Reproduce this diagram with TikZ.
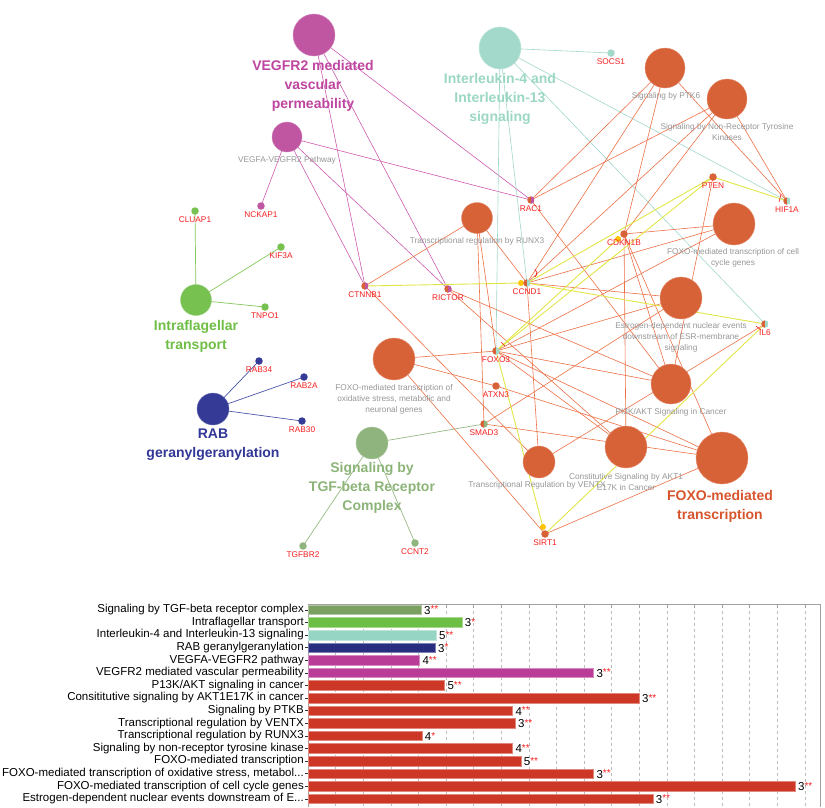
\documentclass[tikz,border=0pt]{standalone}
\usepackage{fontspec}
\setmainfont{Liberation Sans}
\usetikzlibrary{backgrounds}
\definecolor{orgC}{RGB}{216,98,56}
\definecolor{magC}{RGB}{192,86,162}
\definecolor{tealC}{RGB}{163,217,203}
\definecolor{iftC}{RGB}{118,193,80}
\definecolor{rabC}{RGB}{52,58,150}
\definecolor{tgfC}{RGB}{143,180,125}
\definecolor{yelC}{RGB}{255,196,0}
\definecolor{geneRed}{RGB}{245,30,30}
\definecolor{oEdge}{RGB}{236,112,70}
\definecolor{mEdge}{RGB}{205,90,175}
\definecolor{tEdge}{RGB}{160,215,205}
\definecolor{yEdge}{RGB}{225,230,70}
\definecolor{gEdge}{RGB}{130,200,90}
\definecolor{bEdge}{RGB}{75,85,170}
\definecolor{tgEdge}{RGB}{150,185,130}
\definecolor{grayLab}{RGB}{150,150,150}
\definecolor{vegTxt}{RGB}{190,70,160}
\definecolor{ilTxt}{RGB}{155,215,195}
\definecolor{iftTxt}{RGB}{110,190,70}
\definecolor{rabTxt}{RGB}{50,55,150}
\definecolor{tgfTxt}{RGB}{140,180,120}
\definecolor{foxTxt}{RGB}{215,85,45}
\definecolor{cTGF}{RGB}{122,160,98}
\definecolor{cIFT}{RGB}{108,190,68}
\definecolor{cIL}{RGB}{150,212,195}
\definecolor{cRAB}{RGB}{40,45,128}
\definecolor{cMAG}{RGB}{185,60,150}
\definecolor{cRED}{RGB}{205,56,38}
\definecolor{axisGray}{RGB}{160,160,160}
\tikzset{
  cat/.style={circle, fill=#1, draw=#1!70!white, line width=0.4pt, inner sep=0pt},
  gene/.style={circle, fill=#1, inner sep=0pt, minimum size=7.5pt},
  split/.style 2 args={circle, inner sep=0pt, minimum size=7.5pt,
    path picture={\fill[#1] (path picture bounding box.south west) rectangle (path picture bounding box.north);
                  \fill[#2] (path picture bounding box.south) rectangle (path picture bounding box.north east);}},
  ydot/.style={circle, fill=yelC, inner sep=0pt, minimum size=6pt},
  glab/.style={font=\fontsize{8.3}{9}\selectfont, text=geneRed, inner sep=0pt},
  graylab/.style={font=\fontsize{8.3}{11}\selectfont, text=grayLab, align=center, inner sep=0pt},
  biglab/.style={font=\fontsize{14}{19}\selectfont\bfseries, text=#1, align=center, inner sep=0pt},
  oe/.style={draw=oEdge, line width=0.6pt},
  me/.style={draw=mEdge, line width=0.6pt},
  te/.style={draw=tEdge, line width=0.6pt},
  ye/.style={draw=yEdge, line width=0.9pt},
  ge/.style={draw=gEdge, line width=0.7pt},
  be/.style={draw=bEdge, line width=0.7pt},
  tge/.style={draw=tgEdge, line width=0.7pt},
  barlab/.style={font=\fontsize{11.5}{13}\selectfont, anchor=east, inner sep=0pt},
  vallab/.style={font=\fontsize{11.5}{13}\selectfont, anchor=west, inner sep=0pt},
  every label/.style={glab},
  label distance=1.5pt
}
\begin{document}
\begin{tikzpicture}[x=1pt,y=-1pt]
\useasboundingbox (0,0) rectangle (825,807);

% ---------- category nodes ----------
\node[cat=magC, minimum size=42pt] (vegfr2) at (314,35) {};
\node[cat=magC, minimum size=30pt] (vegfa) at (287,137) {};
\node[cat=tealC, minimum size=42pt] (il) at (500,48) {};
\node[cat=orgC, minimum size=40pt] (ptk6) at (665,68) {};
\node[cat=orgC, minimum size=40pt] (nrtk) at (727,99) {};
\node[cat=orgC, minimum size=42pt] (ccg) at (734,224) {};
\node[cat=orgC, minimum size=42pt] (estr) at (681,298) {};
\node[cat=orgC, minimum size=31pt] (runx3) at (477,218) {};
\node[cat=iftC, minimum size=31pt] (ift) at (196,300) {};
\node[cat=rabC, minimum size=32pt] (rab) at (213,409) {};
\node[cat=orgC, minimum size=42pt] (oxid) at (394,359) {};
\node[cat=tgfC, minimum size=32pt] (tgf) at (372,443) {};
\node[cat=orgC, minimum size=40pt] (pi3k) at (671,384) {};
\node[cat=orgC, minimum size=32pt] (ventx) at (539,462) {};
\node[cat=orgC, minimum size=42pt] (akt1) at (626,447) {};
\node[cat=orgC, minimum size=52pt] (foxo) at (722,458) {};

% ---------- yellow dots ----------
\node[ydot] (ydc) at (521,283) {};
\node[ydot] (ydk) at (618,239) {};
\node[ydot] (yds) at (543,527) {};

% ---------- gene nodes ----------
\node[gene=tealC, label=below:SOCS1] (socs1) at (611,53) {};
\node[split={orgC}{tealC}, label=below:HIF1A] (hif1a) at (787,201) {};
\node[gene=orgC, label=below:PTEN] (pten) at (713,177) {};
\node[gene=orgC, label=below:CDKN1B] (cdkn1b) at (624,234) {};
\node[split={orgC}{tealC}, label=below:IL6] (il6) at (765,324) {};
\node[split={orgC}{magC}, label=below:RAC1] (rac1) at (531,200) {};
\node[split={orgC}{tealC}, label=below:CCND1] (ccnd1) at (527,283) {};
\node[split={orgC}{magC}, label=below:RICTOR] (rictor) at (448,289) {};
\node[split={orgC}{tealC}, label=below:FOXO3] (foxo3) at (496,351) {};
\node[split={orgC}{magC}, label=below:CTNNB1] (ctnnb1) at (365,286) {};
\node[gene=iftC, label=below:CLUAP1] (cluap1) at (195,211) {};
\node[gene=iftC, label=below:KIF3A] (kif3a) at (281,247) {};
\node[gene=iftC, label=below:TNPO1] (tnpo1) at (265,307) {};
\node[gene=magC, label=below:NCKAP1] (nckap1) at (261,206) {};
\node[gene=rabC, label=below:RAB34] (rab34) at (259,361) {};
\node[gene=rabC, label=below:RAB2A] (rab2a) at (304,377) {};
\node[gene=rabC, label=below:RAB30] (rab30) at (302,421) {};
\node[gene=tgfC, label=below:TGFBR2] (tgfbr2) at (303,546) {};
\node[gene=tgfC, label=below:CCNT2] (ccnt2) at (415,543) {};
\node[gene=orgC, label=below:ATXN3] (atxn3) at (496,386) {};
\node[split={orgC}{tgfC}, label=below:SMAD3] (smad3) at (484,424) {};
\node[gene=orgC, label=below:SIRT1] (sirt1) at (545,534) {};

% ---------- text labels ----------
\node[biglab=vegTxt] (vegfr2t) at (313,86) {VEGFR2 mediated\\vascular\\permeability};
\node[biglab=ilTxt] (ilt) at (500,99) {Interleukin-4 and\\Interleukin-13\\signaling};
\node[biglab=iftTxt] (iftt) at (196,336) {Intraflagellar\\transport};
\node[biglab=rabTxt] (rabt) at (213,445) {RAB\\geranylgeranylation};
\node[biglab=tgfTxt] (tgft) at (372,488) {Signaling by\\TGF-beta Receptor\\Complex};
\node[biglab=foxTxt] (foxot) at (720,506) {FOXO-mediated\\transcription};
\node[graylab] (vegfat) at (287,160) {VEGFA-VEGFR2 Pathway};
\node[graylab] (ptk6t) at (666,96) {Signaling by PTK6};
\node[graylab] (nrtkt) at (727,132) {Signaling by Non-Receptor Tyrosine\\Kinases};
\node[graylab] (ccgt) at (733,258) {FOXO-mediated transcription of cell\\cycle genes};
\node[graylab] (estrt) at (681,337) {Estrogen-dependent nuclear events\\downstream of ESR-membrane\\signaling};
\node[graylab] (runx3t) at (477,241) {Transcriptional regulation by RUNX3};
\node[graylab] (oxidt) at (394,399) {FOXO-mediated transcription of\\oxidative stress, metabolic and\\neuronal genes};
\node[graylab] (pi3kt) at (671,412) {PI3K/AKT Signaling in Cancer};
\node[graylab] (ventxt) at (537,485) {Transcriptional Regulation by VENTX};
\node[graylab] (akt1t) at (626,482) {Constitutive Signaling by AKT1\\E17K in Cancer};

% ---------- edges ----------
\begin{scope}[on background layer]
\foreach \a/\b in {vegfr2/ctnnb1, vegfr2/rictor, vegfr2/rac1, vegfa/nckap1, vegfa/ctnnb1, vegfa/rictor, vegfa/rac1}
  \draw[me] (\a.center) -- (\b.center);
\foreach \a/\b in {il/socs1, il/foxo3, il/ccnd1, il/hif1a, il/il6}
  \draw[te] (\a.center) -- (\b.center);
\foreach \a/\b in {ift/cluap1, ift/kif3a, ift/tnpo1}
  \draw[ge] (\a.center) -- (\b.center);
\foreach \a/\b in {rab/rab34, rab/rab2a, rab/rab30}
  \draw[be] (\a.center) -- (\b.center);
\foreach \a/\b in {tgf/tgfbr2, tgf/ccnt2, tgf/smad3}
  \draw[tge] (\a.center) -- (\b.center);
\foreach \a/\b in {rac1/ptk6, rac1/nrtk, rac1/pi3k,
  ccnd1/ptk6, ccnd1/nrtk, ccnd1/runx3, ccnd1/ventx, ccnd1/estr, ccnd1/ccg,
  cdkn1b/ptk6, cdkn1b/nrtk, cdkn1b/ccg, cdkn1b/akt1, cdkn1b/pi3k, cdkn1b/foxo,
  foxo3/runx3, foxo3/pi3k, foxo3/akt1, foxo3/foxo, foxo3/oxid, foxo3/ccg, foxo3/estr,
  rictor/pi3k, rictor/akt1, pten/pi3k, ctnnb1/runx3, ctnnb1/ventx,
  hif1a/ptk6, hif1a/nrtk, il6/ventx, atxn3/oxid, atxn3/foxo,
  smad3/runx3, smad3/foxo, smad3/estr, sirt1/foxo, sirt1/oxid}
  \draw[oe] (\a.center) -- (\b.center);
\foreach \a/\b in {ctnnb1/ydc, ccnd1/il6, ccnd1/pten, foxo3/ydk, foxo3/pten, foxo3/yds, sirt1/il6, pten/hif1a}
  \draw[ye] (\a.center) -- (\b.center);
\end{scope}

% small red inhibition marks
\draw[geneRed, line width=0.7pt] ([shift={(8,-6)}]ccnd1.center) arc[start angle=-50, end angle=50, radius=5pt];
\draw[geneRed, line width=0.6pt] ([shift={(5,-9)}]foxo3.center) -- ([shift={(9,-5)}]foxo3.center);
\draw[geneRed, line width=0.6pt] ([shift={(-6,-7)}]hif1a.center) -- ([shift={(-8,1)}]hif1a.center);
\draw[geneRed, line width=0.6pt] ([shift={(-9,2)}]il6.center) -- ([shift={(-4,6)}]il6.center);

% ---------- bar chart ----------
\foreach \k in {1,...,18}
  \draw[axisGray!70, dashed, line width=0.4pt] (308+27.6*\k,604.5) -- (308+27.6*\k,807);
\foreach \k in {1,...,18}
  \draw[axisGray, line width=0.5pt] (308+27.6*\k,604.5) -- (308+27.6*\k,608);
\draw[axisGray, line width=0.7pt] (308,807) -- (308,604.5) -- (820,604.5) -- (820,807);
\foreach \i/\len/\col/\n/\st/\lab in {
  1/421/cTGF/3/{**}/{Signaling by TGF-beta receptor complex},
  2/461.7/cIFT/3/{*}/{Intraflagellar transport},
  3/436/cIL/5/{**}/{Interleukin-4 and Interleukin-13 signaling},
  4/435/cRAB/3/{*}/{RAB geranylgeranylation},
  5/419.3/cMAG/4/{**}/{VEGFA-VEGFR2 pathway},
  6/593.3/cMAG/3/{**}/{VEGFR2 mediated vascular permeability},
  7/444.3/cRED/5/{**}/{P13K/AKT signaling in cancer},
  8/639/cRED/3/{**}/{Consititutive signaling by AKT1E17K in cancer},
  9/512.3/cRED/4/{**}/{Signaling by PTKB},
  10/515/cRED/3/{**}/{Transcriptional regulation by VENTX},
  11/421.7/cRED/4/{*}/{Transcriptional regulation by RUNX3},
  12/512.3/cRED/4/{**}/{Signaling by non-receptor tyrosine kinase},
  13/520.7/cRED/5/{**}/{FOXO-mediated transcription},
  14/593.3/cRED/3/{**}/{FOXO-mediated transcription of oxidative stress, metabol...},
  15/795/cRED/3/{**}/{FOXO-mediated transcription of cell cycle genes},
  16/652.7/cRED/3/{**}/{Estrogen-dependent nuclear events downstream of E...}}
{
  \pgfmathsetmacro\yy{609.7+(\i-1)*12.6}
  \fill[\col, draw=\col!60!white, line width=0.4pt] (308.5,\yy-4.8) rectangle (\len,\yy+4.8);
  \draw[black!80, line width=0.4pt] (305,\yy) -- (308,\yy);
  \node[barlab] (blab\i) at (304,\yy) {\lab};
  \node[vallab] (bval\i) at (\len+3,\yy+0.5) {\n\raisebox{0.2ex}{\fontsize{10}{10}\selectfont\textcolor{geneRed}{\st}}};
}
\end{tikzpicture}
\end{document}
